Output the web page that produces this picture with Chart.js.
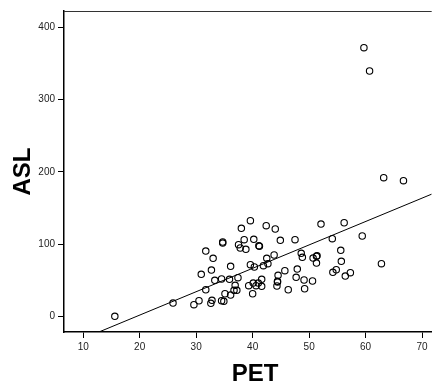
<!DOCTYPE html>
<html>
<head>
<meta charset="utf-8">
<script src="https://cdn.jsdelivr.net/npm/chart.js@4.4.1/dist/chart.umd.min.js"></script>
<style>
  html, body { margin: 0; padding: 0; background: #fff; overflow: hidden; }
  #box { width: 432px; height: 386px; overflow: hidden; }
</style>
</head>
<body>
<div id="box"><canvas id="chart" width="436" height="386"></canvas></div>
<script>
// PET / ASL pairs
const pet = [
  15.6, 25.9, 29.6, 30.5, 31.7, 30.9, 33.0, 32.7, 31.7, 33.3,
  32.6, 32.8, 34.5, 34.9, 35.1, 36.1, 36.7, 37.2, 36.9, 34.5,
  35.9, 37.4, 36.1, 34.7, 34.7, 37.5, 37.8, 38.8, 38.0, 39.6,
  38.5, 40.2, 41.2, 41.1, 42.4, 44.0, 44.9, 47.5, 52.1, 56.2,
  59.4, 54.1, 55.6, 48.6, 48.8, 43.8, 42.5, 50.7, 51.3, 51.4,
  51.3, 55.7, 62.8, 42.7, 41.9, 39.6, 40.3, 45.7, 47.9, 44.5,
  54.2, 54.8, 57.3, 56.4, 47.7, 49.1, 50.6, 44.4, 44.4, 44.3,
  41.6, 41.0, 41.6, 40.6, 40.1, 39.3, 40.0, 46.3, 49.2, 59.7,
  60.7, 63.2, 66.7
]
const asl = [
  0, 18.4, 16.1, 21.6, 90.4, 58.2, 80.3, 64.1, 36.8, 49.9,
  18.0, 22.2, 21.6, 20.8, 31.3, 29.5, 36.0, 36.0, 42.9, 51.7,
  51.2, 53.5, 69.3, 102.9, 101.5, 99.2, 94.6, 92.8, 121.9, 132.4,
  106.1, 106.6, 97.0, 97.8, 125.5, 120.9, 105.3, 106.1, 127.8, 129.6,
  111.2, 107.5, 91.4, 87.3, 81.7, 84.9, 80.3, 80.7, 83.1, 84.0,
  73.8, 76.2, 72.9, 72.9, 70.1, 71.5, 68.3, 63.2, 65.5, 56.8,
  60.9, 64.5, 60.4, 55.8, 54.0, 50.3, 48.9, 48.5, 47.5, 42.0,
  51.2, 46.1, 41.6, 42.4, 46.1, 42.4, 31.3, 36.8, 38.2, 372,
  339.7, 192, 187.8
]

const xTicks = [10, 20, 30, 40, 50, 60, 70]
const yTicks = [0, 100, 200, 300, 400]
const xRange = [6.6, 71.7]
const yRange = [-21.7, 422.8]

// linear fit line
const fitIntercept = -63.1
const fitSlope = 3.24

const points = pet.map((x, i) => ({ x: x, y: asl[i] }))
const fitLine = xRange.map(x => ({ x: x, y: fitIntercept + fitSlope * x }))

const tickFont = { family: "Arial, 'Liberation Sans', sans-serif", size: 10 }

const frame = {
  id: "frame",
  afterDraw(chart) {
    const ctx = chart.ctx
    const area = chart.chartArea
    ctx.save()
    ctx.strokeStyle = "#333"
    ctx.lineWidth = 1
    ctx.beginPath()
    ctx.moveTo(area.left, area.top + 0.5)
    ctx.lineTo(area.right, area.top + 0.5)
    ctx.stroke()

    ctx.fillStyle = "#000"
    ctx.font = "bold 24px Arial, 'Liberation Sans', sans-serif"
    ctx.textAlign = "center"
    ctx.textBaseline = "middle"
    ctx.fillText("PET", 255, 374)
    ctx.translate(23, (area.top + area.bottom) / 2)
    ctx.rotate(-Math.PI / 2)
    ctx.fillText("ASL", 0, 0)
    ctx.restore()
  }
}

new Chart(document.getElementById("chart"), {
  type: "scatter",
  data: {
    datasets: [{
      data: points,
      pointRadius: 3.2,
      pointHoverRadius: 3.2,
      pointBorderWidth: 1.1,
      pointBorderColor: "#000",
      pointBackgroundColor: "rgba(0,0,0,0)"
    }, {
      type: "line",
      data: fitLine,
      borderColor: "#000",
      borderWidth: 1,
      pointRadius: 0,
      fill: false
    }]
  },
  options: {
    responsive: false,
    animation: false,
    layout: { padding: { top: 11, left: 0, right: 0, bottom: 0 } },
    plugins: {
      legend: { display: false },
      tooltip: { enabled: false }
    },
    scales: {
      x: {
        type: "linear",
        min: xRange[0],
        max: xRange[1],
        afterBuildTicks: scale => { scale.ticks = xTicks.map(v => ({ value: v })) },
        afterFit: scale => {
          scale.height = 54
          scale.paddingLeft = 0
          scale.paddingRight = 0
        },
        grid: { drawOnChartArea: false, color: "#000", tickLength: 6 },
        border: { color: "#000", width: 1.5 },
        ticks: { font: tickFont, color: "#222", padding: 3, maxRotation: 0 }
      },
      y: {
        type: "linear",
        min: yRange[0],
        max: yRange[1],
        afterBuildTicks: scale => { scale.ticks = yTicks.map(v => ({ value: v })) },
        afterFit: scale => {
          scale.width = 64
          scale.paddingTop = 0
          scale.paddingBottom = 0
        },
        grid: { drawOnChartArea: false, color: "#000", tickLength: 6 },
        border: { color: "#000", width: 1.5 },
        ticks: { font: tickFont, color: "#222", padding: 3 }
      }
    }
  },
  plugins: [frame]
})
</script>
</body>
</html>
